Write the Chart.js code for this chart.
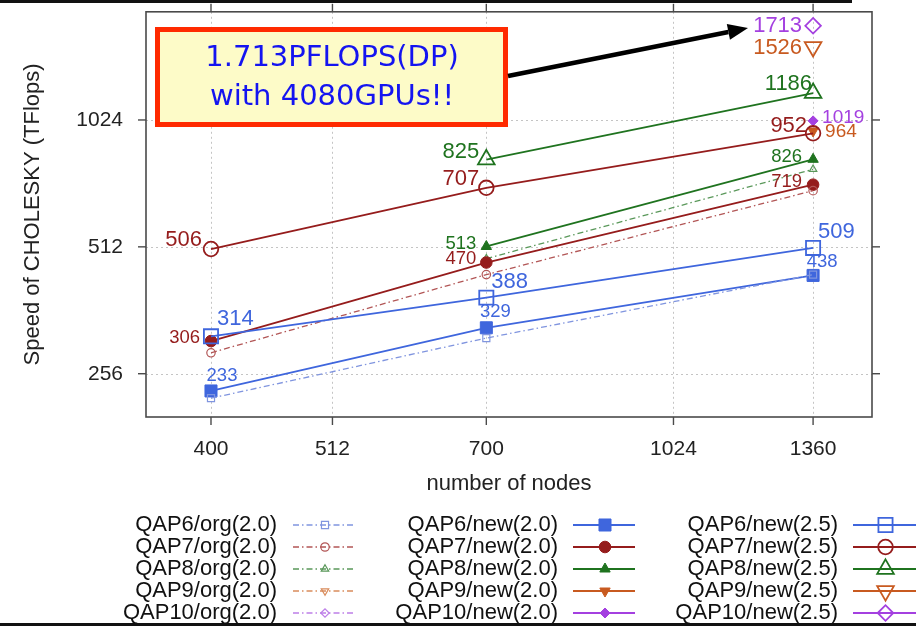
<!DOCTYPE html>
<html><head><meta charset="utf-8">
<script src="https://cdn.jsdelivr.net/npm/chart.js@4/dist/chart.umd.min.js"></script>
<style>html,body{margin:0;padding:0;background:#fff;overflow:hidden}canvas{display:block}</style>
</head><body>
<canvas id="c" width="916" height="626"></canvas>
<script>
// ---------------- data ----------------
const NODES = [400, 700, 1360];
const X_TICKS = [400, 512, 700, 1024, 1360];
const Y_TICKS = [256, 512, 1024];

const QAP6_ORG_20  = [224, 311, 440];
const QAP6_NEW_20  = [233, 329, 438];
const QAP6_NEW_25  = [314, 388, 509];
const QAP7_ORG_20  = [287, 440, 696];
const QAP7_NEW_20  = [306, 470, 719];
const QAP7_NEW_25  = [506, 707, 952];
const QAP8_ORG_20  = [null, 480, 782];
const QAP8_NEW_20  = [null, 513, 826];
const QAP8_NEW_25  = [null, 825, 1186];
const QAP9_ORG_20  = [null, null, null];
const QAP9_NEW_20  = [null, null, 964];
const QAP9_NEW_25  = [null, null, 1526];
const QAP10_ORG_20 = [null, null, null];
const QAP10_NEW_20 = [null, null, 1019];
const QAP10_NEW_25 = [null, null, 1713];

const SERIES = ['QAP6', 'QAP7', 'QAP8', 'QAP9', 'QAP10'];
const VARIANTS = ['org(2.0)', 'new(2.0)', 'new(2.5)'];
const VALUES = {
  QAP6: [QAP6_ORG_20, QAP6_NEW_20, QAP6_NEW_25],
  QAP7: [QAP7_ORG_20, QAP7_NEW_20, QAP7_NEW_25],
  QAP8: [QAP8_ORG_20, QAP8_NEW_20, QAP8_NEW_25],
  QAP9: [QAP9_ORG_20, QAP9_NEW_20, QAP9_NEW_25],
  QAP10: [QAP10_ORG_20, QAP10_NEW_20, QAP10_NEW_25]
};
const NOTE_LINES = ['1.713PFLOPS(DP)', 'with 4080GPUs!!'];

// ---------------- styles ----------------
const FONT = '"Liberation Sans", Arial, Helvetica, sans-serif';
const COLORS = {QAP6: '#3f66dd', QAP7: '#951c1c', QAP8: '#1f731f', QAP9: '#c85a20', QAP10: '#a440e0'};
const ORG_COLORS = {QAP6: '#8095df', QAP7: '#b25656', QAP8: '#5a985a', QAP9: '#d98c5c', QAP10: '#bd7fe8'};
const MARKERS = {QAP6: ['rect', 0], QAP7: ['circle', 0], QAP8: ['triangle', 0], QAP9: ['triangle', 180], QAP10: ['rectRot', 0]};
const RADIUS = [
  {rect: 5, circle: 4.2, triangle: 4.3, rectRot: 4.2},
  {rect: 8.5, circle: 5.8, triangle: 6, rectRot: 5},
  {rect: 10, circle: 7.3, triangle: 9.6, rectRot: 7.8}
];
// label placement: key -> list of [index, dx, dy, align, fontSize]
const LABEL_PLACE = {
  'QAP6/new(2.0)':  [[0, 11, -15.5, 'center', 18.5], [1, 9, -16, 'center', 18.5], [2, 9, -14, 'center', 18.5]],
  'QAP6/new(2.5)':  [[0, 6, -17, 'left', 22], [1, 5, -16, 'left', 22], [2, 5, -16, 'left', 22]],
  'QAP7/new(2.0)':  [[0, -11, -3, 'right', 18.5], [1, -10, -4, 'right', 18.5], [2, -11, -3, 'right', 18.5]],
  'QAP7/new(2.5)':  [[0, -9, -9, 'right', 22], [1, -7, -9, 'right', 22], [2, -6, -7, 'right', 22]],
  'QAP8/new(2.0)':  [[1, -10, -3, 'right', 18.5], [2, -11, -2, 'right', 18.5]],
  'QAP8/new(2.5)':  [[1, -7, -8, 'right', 22], [2, -1, -9, 'right', 22]],
  'QAP9/new(2.0)':  [[2, 12, 1, 'left', 19]],
  'QAP9/new(2.5)':  [[2, -11, 1, 'right', 22]],
  'QAP10/new(2.0)': [[2, 9, -3, 'left', 19]],
  'QAP10/new(2.5)': [[2, -11, 0, 'right', 22]]
};

// ---------------- datasets ----------------
const datasets = [];
SERIES.forEach(s => {
  VARIANTS.forEach((v, vi) => {
    const [style, rot] = MARKERS[s];
    const col = vi === 0 ? ORG_COLORS[s] : COLORS[s];
    datasets.push({
      label: s + '/' + v,
      series: s, variant: vi,
      data: NODES.map((x, i) => ({x: x, y: VALUES[s][vi][i]})),
      borderColor: col,
      backgroundColor: col,
      borderWidth: vi === 0 ? 1.3 : 1.8,
      borderDash: vi === 0 ? [6, 3, 1.5, 3] : [],
      pointStyle: style,
      pointRotation: rot,
      pointRadius: RADIUS[vi][style],
      pointBorderColor: col,
      pointBackgroundColor: vi === 1 ? col : 'rgba(0,0,0,0)',
      pointBorderWidth: vi === 2 ? 1.8 : (vi === 0 ? 1.2 : 1),
      tension: 0,
      spanGaps: false
    });
  });
});

// ---------------- plugins ----------------
function seg(ctx, x0, y0, x1, y1) { ctx.beginPath(); ctx.moveTo(x0, y0); ctx.lineTo(x1, y1); ctx.stroke(); }

const framePlugin = {
  id: 'frame',
  beforeDatasetsDraw(chart) {
    const {ctx, chartArea: a, scales: {x, y}} = chart;
    ctx.save();
    ctx.strokeStyle = '#c4c4c4'; ctx.lineWidth = 1; ctx.setLineDash([2, 3]);
    X_TICKS.forEach(v => { const p = Math.round(x.getPixelForValue(v)) + 0.5; seg(ctx, p, a.top, p, a.bottom); });
    Y_TICKS.forEach(v => { const p = Math.round(y.getPixelForValue(v)) + 0.5; seg(ctx, a.left, p, a.right, p); });
    ctx.setLineDash([]);
    ctx.strokeStyle = '#4a4a4a'; ctx.lineWidth = 1.6;
    ctx.strokeRect(a.left, a.top, a.right - a.left, a.bottom - a.top);
    ctx.lineWidth = 1.4;
    X_TICKS.forEach(v => { const p = x.getPixelForValue(v); seg(ctx, p, a.bottom, p, a.bottom + 8); seg(ctx, p, a.top, p, a.top - 8); });
    Y_TICKS.forEach(v => { const p = y.getPixelForValue(v); seg(ctx, a.left - 8, p, a.left, p); seg(ctx, a.right, p, a.right + 8, p); });
    ctx.restore();
  }
};

const labelPlugin = {
  id: 'valueLabels',
  afterDatasetsDraw(chart) {
    const {ctx, scales: {x, y}} = chart;
    ctx.save();
    ctx.textBaseline = 'middle';
    chart.data.datasets.forEach(ds => {
      const place = LABEL_PLACE[ds.label];
      if (!place) return;
      place.forEach(([i, dx, dy, align, size]) => {
        const val = VALUES[ds.series][ds.variant][i];
        if (val == null) return;
        const px = x.getPixelForValue(NODES[i]);
        const py = y.getPixelForValue(val);
        ctx.font = size + 'px ' + FONT;
        ctx.fillStyle = COLORS[ds.series];
        ctx.textAlign = align;
        ctx.fillText(String(val), px + dx, py + dy);
      });
    });
    ctx.restore();
  }
};

function marker(ctx, ds, cx, cy) {
  ctx.save();
  ctx.fillStyle = ds.pointBackgroundColor;
  ctx.strokeStyle = ds.pointBorderColor;
  ctx.lineWidth = ds.pointBorderWidth;
  ctx.setLineDash([]);
  Chart.helpers.drawPoint(ctx, {pointStyle: ds.pointStyle, rotation: ds.pointRotation, radius: ds.pointRadius, borderWidth: ds.pointBorderWidth}, cx, cy);
  ctx.restore();
}

const decorPlugin = {
  id: 'decor',
  afterDraw(chart) {
    const ctx = chart.ctx;
    ctx.save();
    // slide border lines
    ctx.fillStyle = '#111';
    ctx.fillRect(0, 0, 852, 3);
    ctx.fillRect(0, 623, 916, 3);

    // legend
    const cols = [[277, 293, 355], [558, 573, 635], [838, 853, 916]];
    ctx.font = '22px ' + FONT;
    ctx.textBaseline = 'middle';
    chart.data.datasets.forEach(ds => {
      const r = SERIES.indexOf(ds.series);
      const [tx, l0, l1] = cols[ds.variant];
      const yy = 525 + r * 22;
      ctx.fillStyle = '#111';
      ctx.textAlign = 'right';
      ctx.fillText(ds.label, tx, yy);
      ctx.strokeStyle = ds.borderColor;
      ctx.lineWidth = ds.borderWidth;
      ctx.setLineDash(ds.borderDash);
      seg(ctx, l0, yy, l1, yy);
      ctx.setLineDash([]);
      marker(ctx, ds, (l0 + l1) / 2 + 1, yy);
    });

    // annotation box
    ctx.fillStyle = '#fdfbc8';
    ctx.fillRect(157.5, 29.5, 348, 95);
    ctx.strokeStyle = '#ff2a00';
    ctx.lineWidth = 5;
    ctx.strokeRect(157.5, 29.5, 348, 95);
    ctx.fillStyle = '#1414f0';
    ctx.font = '29px "DejaVu Sans", sans-serif';
    ctx.textAlign = 'center';
    ctx.textBaseline = 'middle';
    ctx.fillText(NOTE_LINES[0], 332, 58);
    ctx.fillText(NOTE_LINES[1], 332, 97);

    // arrow
    const x0 = 508, y0 = 76, x1 = 748, y1 = 28;
    const ang = Math.atan2(y1 - y0, x1 - x0);
    const hl = 20, hw = 8;
    const bx = x1 - hl * Math.cos(ang), by = y1 - hl * Math.sin(ang);
    ctx.strokeStyle = '#000'; ctx.lineWidth = 4.5;
    seg(ctx, x0, y0, bx, by);
    ctx.fillStyle = '#000';
    ctx.beginPath();
    ctx.moveTo(x1, y1);
    ctx.lineTo(bx + hw * Math.sin(ang), by - hw * Math.cos(ang));
    ctx.lineTo(bx - hw * Math.sin(ang), by + hw * Math.cos(ang));
    ctx.closePath();
    ctx.fill();
    ctx.restore();
  }
};

// ---------------- chart ----------------
new Chart(document.getElementById('c'), {
  type: 'line',
  data: {datasets: datasets},
  options: {
    responsive: false,
    animation: false,
    devicePixelRatio: 1,
    layout: {padding: {left: 0, right: 44, top: 5, bottom: 129}},
    plugins: {legend: {display: false}, tooltip: {enabled: false}},
    scales: {
      x: {
        type: 'logarithmic', position: 'bottom', min: 350.5, max: 1533, bounds: 'data',
        grid: {display: false, drawTicks: false}, border: {display: false},
        afterBuildTicks: s => { s.ticks = X_TICKS.map(v => ({value: v})); },
        afterFit: s => { s.height = 80; s.paddingLeft = 0; s.paddingRight = 0; },
        ticks: {autoSkip: false, maxRotation: 0, minRotation: 0, padding: 20, color: '#222',
                font: {family: FONT, size: 21}, callback: v => String(v)},
        title: {display: true, text: 'number of nodes', color: '#222',
                font: {family: FONT, size: 22}, padding: {top: 0, bottom: 0}}
      },
      y: {
        type: 'logarithmic', position: 'left', min: 202.1, max: 1849, bounds: 'data',
        grid: {display: false, drawTicks: false}, border: {display: false},
        afterBuildTicks: s => { s.ticks = Y_TICKS.map(v => ({value: v})); },
        afterFit: s => { s.width = 146; s.paddingTop = 0; s.paddingBottom = 0; },
        ticks: {autoSkip: false, padding: 23, color: '#222',
                font: {family: FONT, size: 21}, callback: v => String(v)},
        title: {display: true, text: 'Speed of CHOLESKY (TFlops)', color: '#222',
                font: {family: FONT, size: 22}, padding: {top: 20, bottom: 0}}
      }
    }
  },
  plugins: [framePlugin, labelPlugin, decorPlugin]
});
</script>
</body></html>
